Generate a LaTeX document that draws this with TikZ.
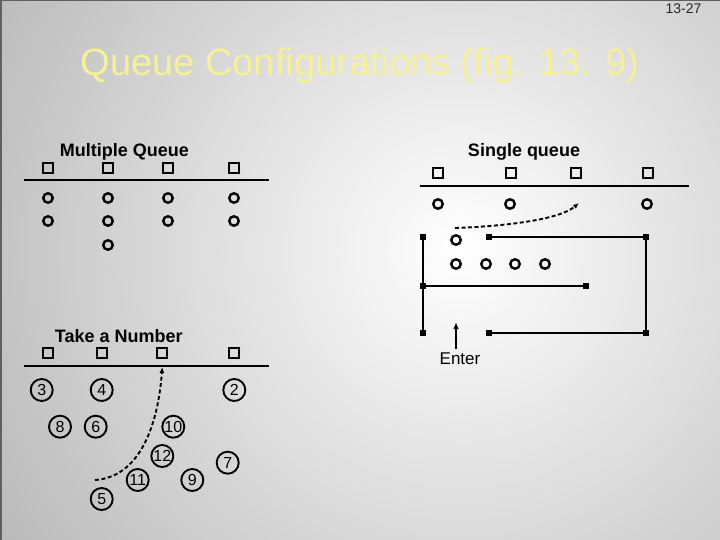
\documentclass[tikz,border=0pt]{standalone}
\usepackage{fontspec}
\setmainfont{Liberation Sans}
\usetikzlibrary{arrows.meta}
\definecolor{titlecol}{RGB}{246,240,150}
\definecolor{edgegray}{RGB}{150,150,150}
\definecolor{bordergray}{RGB}{96,96,96}
\tikzset{
  srv/.style={draw=black,line width=2pt,minimum size=10pt,inner sep=0pt,rectangle},
  cust/.style={draw=black,line width=2.4pt,circle,minimum size=9.5pt,inner sep=0pt},
  numc/.style={draw=black,line width=1.9pt,circle,minimum size=22pt,inner sep=0pt,font=\fontsize{16}{16}\selectfont},
  pt/.style={fill=black,rectangle,minimum size=6pt,inner sep=0pt},
  bar/.style={line width=2.4pt},
  wall/.style={line width=2.4pt},
  lbl/.style={font=\bfseries\fontsize{18}{18}\selectfont,anchor=base,inner sep=0pt},
  dashy/.style={line width=1.9pt,dash pattern=on 4pt off 2.5pt,-{Latex[length=6pt,width=5pt]}},
}
\begin{document}
\begin{tikzpicture}[x=1pt,y=-1pt]
\useasboundingbox (0,0) rectangle (720,540);
\begin{scope}
  \clip (0,0) rectangle (720,540);
  \shade[inner color=white,outer color=edgegray] (460,250) circle (820);
  \fill[bordergray] (0,0) rectangle (2,540);
  \fill[bordergray] (0,0) rectangle (720,1);
\end{scope}

% page number and title
\node[font=\fontsize{14}{14}\selectfont,anchor=base,inner sep=0pt,text=black!85] (pg) at (683.5,14) {13-27};
\node[font=\fontsize{38}{38}\selectfont,anchor=base,inner sep=0pt,text=titlecol] (title) at (360,76) {Queue Configurations (fig. 13. 9)};

% ---------------- Multiple queue ----------------
\node[lbl] (mqlab) at (124.5,156.5) {Multiple Queue};
\foreach \x [count=\i] in {48,108,168,234}{
  \node[srv] (ms\i) at (\x,168) {};
  \node[cust] (mca\i) at (\x,198) {};
  \node[cust] (mcb\i) at (\x,221) {};
}
\node[cust] (mcc2) at (108,245) {};
\coordinate (mlL) at (24,180);
\coordinate (mlR) at (269,180);
\draw[bar] (mlL) -- (mlR);

% ---------------- Single queue ----------------
\node[lbl] (sqlab) at (524,157) {Single queue};
\foreach \x [count=\i] in {438,511,576,648}{
  \node[srv] (ss\i) at (\x,173) {};
}
\coordinate (slL) at (420,186);
\coordinate (slR) at (689,186);
\draw[bar] (slL) -- (slR);
\node[cust] (sc1) at (438,204) {};
\node[cust] (sc2) at (510,204) {};
\node[cust] (sc4) at (647,204) {};
% maze
\node[pt] (d1) at (423,237) {};
\node[pt] (d2) at (489,237) {};
\node[pt] (d3) at (646,237) {};
\node[pt] (d4) at (423,286) {};
\node[pt] (d5) at (586,286) {};
\node[pt] (d6) at (423,333) {};
\node[pt] (d7) at (489,333) {};
\node[pt] (d8) at (646,333) {};
\draw[wall] (d1.center) -- (d6.center);
\draw[wall] (d2.center) -- (d3.center) -- (d8.center) -- (d7.center);
\draw[wall] (d4.center) -- (d5.center);
\node[cust] (w1) at (456,240) {};
\foreach \x [count=\i] in {456,486,515,545}{
  \node[cust] (wr\i) at (\x,264) {};
}
\coordinate (sdS) at (455,228);
\coordinate (sdE) at (579,203);
\draw[dashy] (sdS) .. controls (510,226) and (560,219) .. (sdE);
\node[font=\fontsize{17}{17}\selectfont,anchor=base,inner sep=0pt] (enter) at (460,364) {Enter};
\coordinate (entS) at (456,349);
\coordinate (entE) at (456,322);
\draw[line width=2pt,-{Latex[length=7pt,width=5.5pt]}] (entS) -- (entE);

% ---------------- Take a number ----------------
\node[lbl] (tnlab) at (118.8,342.5) {Take a Number};
\foreach \x [count=\i] in {48,102,162,234}{
  \node[srv] (ts\i) at (\x,353) {};
}
\coordinate (tlL) at (24,366);
\coordinate (tlR) at (269,366);
\draw[bar] (tlL) -- (tlR);
\node[numc] (n3) at (41.7,390) {3};
\node[numc] (n4) at (101.7,390) {4};
\node[numc] (n2) at (234.3,390) {2};
\node[numc] (n8) at (60,426.7) {8};
\node[numc] (n6) at (95.7,426.7) {6};
\node[numc] (n10) at (173.3,426.7) {10};
\node[numc] (n12) at (162.3,456) {12};
\node[numc] (n7) at (227.7,462.7) {7};
\node[numc] (n11) at (137.7,480) {11};
\node[numc] (n9) at (192.3,480) {9};
\node[numc] (n5) at (101.7,499) {5};
\coordinate (tdS) at (95,480);
\coordinate (tdE) at (162.3,367);
\draw[dashy] (tdS) .. controls (140,477) and (158,425) .. (tdE);
\end{tikzpicture}
\end{document}
